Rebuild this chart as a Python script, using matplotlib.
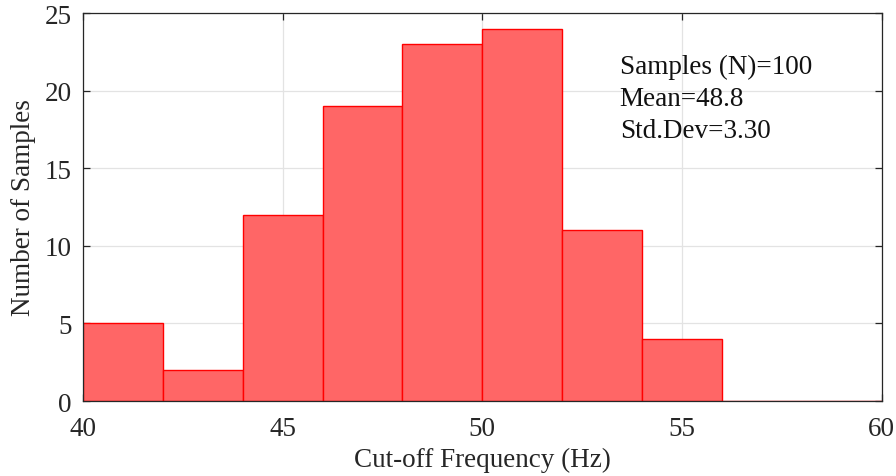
import numpy as np
import matplotlib.pyplot as plt

plt.rcParams['font.family'] = ['Liberation Serif', 'DejaVu Serif']
plt.rcParams['mathtext.fontset'] = 'stix'

# histogram data (bin edges in Hz, counts per bin)
bin_edges = [40, 42, 44, 46, 48, 50, 52, 54, 56, 58, 60]
counts = [5, 2, 12, 19, 23, 24, 11, 4, 0, 0]
n_samples = 100
mean_val = 48.8
std_val = 3.30

fig = plt.figure(figsize=(8.96, 4.77), dpi=100)
ax = fig.add_axes([0.0926, 0.1572, 0.8914, 0.8134])

ax.hist(bin_edges[:-1], bins=bin_edges, weights=counts,
        facecolor='#ff6666', edgecolor='red', linewidth=1.0, zorder=2)

ax.set_xlim(40, 60)
ax.set_ylim(0, 25)
ax.set_xticks([40, 45, 50, 55, 60])
ax.set_yticks([0, 5, 10, 15, 20, 25])
ax.grid(True, color='#e3e3e3', linewidth=0.9, zorder=0)
ax.set_axisbelow(True)

for s in ax.spines.values():
    s.set_color('#262626')
    s.set_linewidth(0.9)
ax.tick_params(direction='in', top=True, right=True, length=5, width=0.9,
               color='#262626', labelsize=19.5, labelcolor='#262626')
ax.tick_params(axis='x', pad=11)
ax.tick_params(axis='y', pad=8)

ax.set_xlabel('Cut-off Frequency (Hz)', fontsize=19.5, color='#262626', labelpad=4)
ax.set_ylabel('Number of Samples', fontsize=19.5, color='#262626', labelpad=6)

ax.text(0.672, 0.895,
        f'Samples (N)={n_samples}\nMean={mean_val}\nStd.Dev={std_val:.2f}',
        transform=ax.transAxes, fontsize=19.5, va='top', ha='left',
        linespacing=1.37, color='#111111')

plt.savefig('out.png', dpi=100)
